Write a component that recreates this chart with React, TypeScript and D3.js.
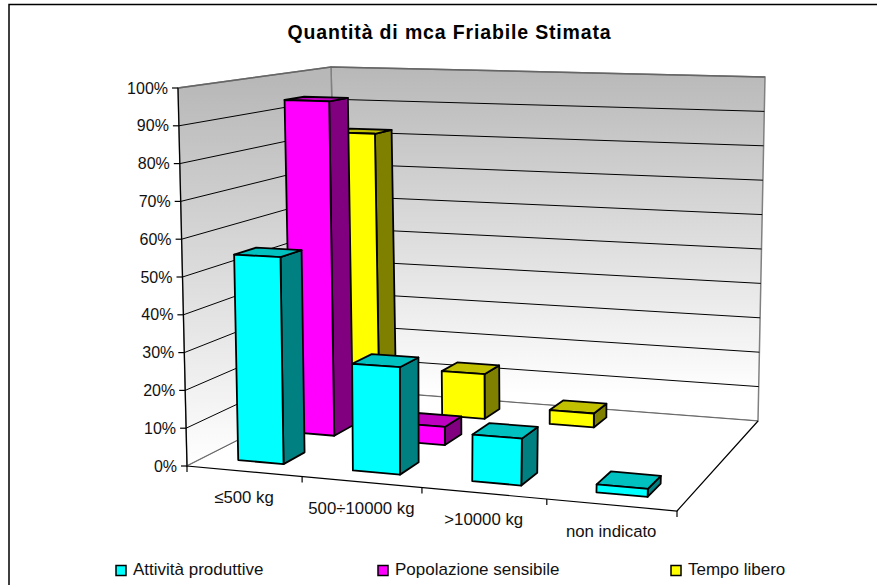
import { useEffect, useRef } from 'react';
import * as d3 from 'd3';

const title = 'Quantità di mca Friabile Stimata';
const categories = ['≤500 kg', '500÷10000 kg', '>10000 kg', 'non indicato'];
const seriesNames = ['Attività produttive', 'Popolazione sensibile', 'Tempo libero'];
const attivita = [55, 28, 12, 2];
const popolazione = [94, 5, 0, 0];
const tempoLibero = [82, 13, 4, 0];
const seriesValues = [attivita, popolazione, tempoLibero];
const yTicks = [0, 10, 20, 30, 40, 50, 60, 70, 80, 90, 100];

const frontColors = ['#00ffff', '#ff00ff', '#ffff00'];
const sideColors = ['#008080', '#800080', '#808000'];
const topColors = ['#00c0c0', '#c000c0', '#c0c000'];
const legendX = [116, 378, 671];

type Pt = [number, number];

// unit square -> quad (order: front-left, front-right, back-right, back-left)
function squareToQuad([a, b, c, d]: Pt[]) {
  const dx1 = b[0] - c[0];
  const dx2 = d[0] - c[0];
  const sx = a[0] - b[0] + c[0] - d[0];
  const dy1 = b[1] - c[1];
  const dy2 = d[1] - c[1];
  const sy = a[1] - b[1] + c[1] - d[1];
  const den = dx1 * dy2 - dx2 * dy1;
  const g = (sx * dy2 - dx2 * sy) / den;
  const h = (dx1 * sy - sx * dy1) / den;
  return (u: number, v: number): Pt => {
    const w = g * u + h * v + 1;
    return [
      ((b[0] - a[0] + g * b[0]) * u + (d[0] - a[0] + h * d[0]) * v + a[0]) / w,
      ((b[1] - a[1] + g * b[1]) * u + (d[1] - a[1] + h * d[1]) * v + a[1]) / w,
    ];
  };
}

const floorAt = squareToQuad([[187, 466], [677, 511], [758, 421], [339, 389]]);
const topAt = squareToQuad([[178, 88], [690, 102], [765, 77], [331, 67]]);

const heightScale = d3.scaleLinear().domain([0, 100]).range([0, 1]);
const catBand = d3.scaleBand<string>().domain(categories).range([0, 1]).paddingInner(0.6).paddingOuter(0.3);
const catStep = d3.scaleLinear().domain([0, categories.length]).range([0, 1]);
const depthBand = d3.scaleBand<string>().domain(seriesNames).range([0, 1]).paddingInner(0.6).paddingOuter(0.3);

function project(u: number, z: number, value: number): Pt {
  const f = floorAt(u, z);
  const t = topAt(u, z);
  const k = heightScale(value);
  return [f[0] + (t[0] - f[0]) * k, f[1] + (t[1] - f[1]) * k];
}

const poly = (pts: Pt[]) => d3.line()(pts)! + 'Z';

export default function App() {
  const svgRef = useRef<SVGSVGElement | null>(null);

  useEffect(() => {
    if (!svgRef.current) return;
    const svg = d3.select(svgRef.current);
    svg.selectAll('*').remove();

    const font = '"Liberation Sans", Arial, sans-serif';
    const defs = svg.append('defs');
    const addGrad = (id: string, y1: number, y2: number) => {
      const g = defs
        .append('linearGradient')
        .attr('id', id)
        .attr('gradientUnits', 'userSpaceOnUse')
        .attr('x1', 0)
        .attr('x2', 0)
        .attr('y1', y1)
        .attr('y2', y2);
      g.append('stop').attr('offset', '0%').attr('stop-color', '#b8b8b8');
      g.append('stop').attr('offset', '100%').attr('stop-color', '#ffffff');
    };
    addGrad('back-wall', 67, 395);
    addGrad('left-wall', 80, 465);

    // Chart border, only top and left are visible
    svg
      .append('path')
      .attr('d', 'M9,585V4.5H877')
      .attr('fill', 'none')
      .attr('stroke', '#000')
      .attr('stroke-width', 1.5);

    svg
      .append('text')
      .attr('x', 449.5)
      .attr('y', 39)
      .attr('text-anchor', 'middle')
      .attr('font-family', font)
      .attr('font-size', 19.5)
      .attr('font-weight', 700)
      .attr('letter-spacing', 0.85)
      .text(title);

    // Walls and floor
    svg
      .append('path')
      .attr('d', poly([project(0, 1, 0), project(1, 1, 0), project(1, 1, 100), project(0, 1, 100)]))
      .attr('fill', 'url(#back-wall)')
      .attr('stroke', '#808080')
      .attr('stroke-width', 1.5);
    svg
      .append('path')
      .attr('d', poly([project(0, 0, 0), project(0, 1, 0), project(0, 1, 100), project(0, 0, 100)]))
      .attr('fill', 'url(#left-wall)')
      .attr('stroke', '#808080')
      .attr('stroke-width', 1.5);
    svg
      .append('path')
      .attr('d', poly([project(0, 0, 0), project(1, 0, 0), project(1, 1, 0), project(0, 1, 0)]))
      .attr('fill', '#fff');

    // Gridlines
    const grid = svg.append('g').attr('fill', 'none').attr('stroke', '#000').attr('stroke-width', 1);
    yTicks.forEach((t) => {
      const d = d3.line()([project(0, 0, t), project(0, 1, t), project(1, 1, t)]);
      grid
        .append('path')
        .attr('d', d!)
        .attr('stroke', t === 0 || t === 100 ? '#666' : '#000')
        .attr('stroke-width', t === 100 ? 1.5 : 1);
    });

    // Front and right floor edges, y axis
    const axes = svg.append('g').attr('fill', 'none').attr('stroke', '#000').attr('stroke-width', 1.2);
    axes.append('path').attr('d', d3.line()([project(0, 0, 100), project(0, 0, 0), project(1, 0, 0), project(1, 1, 0)])!);
    yTicks.forEach((t) => {
      const [x, y] = project(0, 0, t);
      axes.append('line').attr('x1', x - 6).attr('x2', x).attr('y1', y).attr('y2', y);
      svg
        .append('text')
        .attr('x', x - 10)
        .attr('y', y + 5.5)
        .attr('text-anchor', 'end')
        .attr('font-family', font)
        .attr('font-size', 16)
        .attr('fill', '#111')
        .text(`${t}%`);
    });
    d3.range(categories.length + 1).forEach((i) => {
      const [x, y] = project(catStep(i), 0, 0);
      axes.append('line').attr('x1', x).attr('x2', x).attr('y1', y).attr('y2', y + 6);
    });
    categories.forEach((c, i) => {
      const [x, y] = project(catStep(i + 0.5), 0, 0);
      svg
        .append('text')
        .attr('x', x)
        .attr('y', y + 32)
        .attr('text-anchor', 'middle')
        .attr('font-family', font)
        .attr('font-size', 16.8)
        .attr('fill', '#111')
        .text(c);
    });

    // Bars, back series first so the nearer ones paint over
    const bars = svg.append('g').attr('stroke', '#000').attr('stroke-width', 1.8).attr('stroke-linejoin', 'round');
    d3.range(seriesNames.length)
      .reverse()
      .forEach((s) => {
        const z0 = depthBand(seriesNames[s])!;
        const z1 = z0 + depthBand.bandwidth();
        categories.forEach((c, i) => {
          const v = seriesValues[s][i];
          if (!v) return;
          const u0 = catBand(c)!;
          const u1 = u0 + catBand.bandwidth();
          bars
            .append('path')
            .attr('fill', sideColors[s])
            .attr('d', poly([project(u1, z0, 0), project(u1, z1, 0), project(u1, z1, v), project(u1, z0, v)]));
          bars
            .append('path')
            .attr('fill', topColors[s])
            .attr('d', poly([project(u0, z0, v), project(u1, z0, v), project(u1, z1, v), project(u0, z1, v)]));
          bars
            .append('path')
            .attr('fill', frontColors[s])
            .attr('d', poly([project(u0, z0, 0), project(u1, z0, 0), project(u1, z0, v), project(u0, z0, v)]));
        });
      });

    // Legend
    seriesNames.forEach((name, s) => {
      svg
        .append('rect')
        .attr('x', legendX[s])
        .attr('y', 565.5)
        .attr('width', 10)
        .attr('height', 10)
        .attr('fill', frontColors[s])
        .attr('stroke', '#000')
        .attr('stroke-width', 1.5);
      svg
        .append('text')
        .attr('x', legendX[s] + 17)
        .attr('y', 575)
        .attr('font-family', font)
        .attr('font-size', 17)
        .attr('fill', '#111')
        .text(name);
    });
  }, []);

  return (
    <svg
      ref={svgRef}
      width={877}
      height={585}
      style={{ position: 'absolute', left: 0, top: 0, background: '#fff' }}
    />
  );
}
